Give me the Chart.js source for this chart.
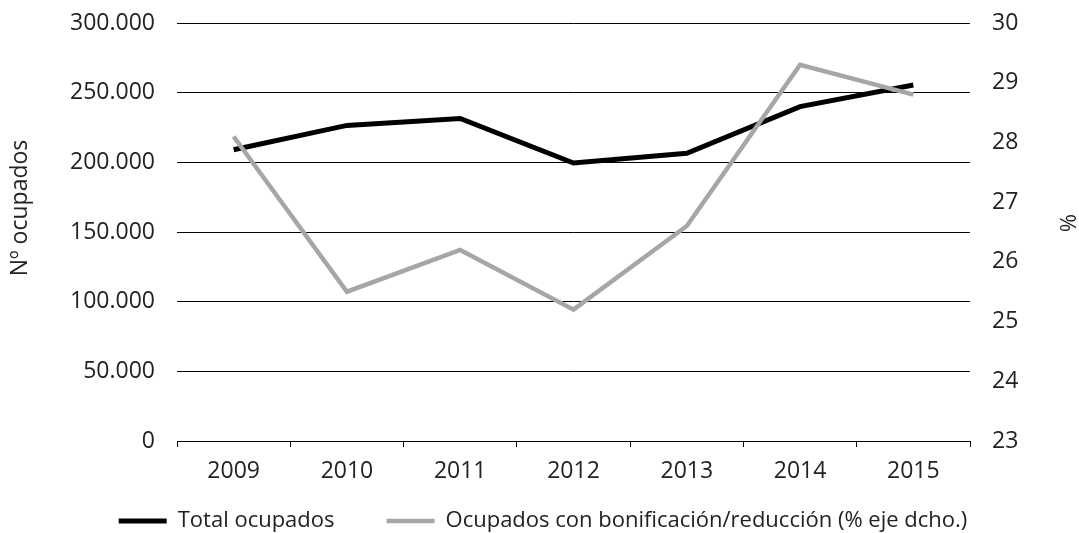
<!DOCTYPE html>
<html>
<head>
<meta charset="utf-8">
<script src="https://cdn.jsdelivr.net/npm/chart.js@4/dist/chart.umd.min.js"></script>
<style>
  html, body { margin: 0; padding: 0; background: #fff; }
  #wrap { width: 1079px; height: 533px; position: relative; }
</style>
</head>
<body>
<div id="wrap"><canvas id="c" width="1079" height="533"></canvas></div>
<script>
const categories = ['2009', '2010', '2011', '2012', '2013', '2014', '2015'];
const totalOcupados = [209000, 226500, 231500, 199500, 206500, 240000, 255500];
const pctBonificacion = [28.1, 25.5, 26.2, 25.2, 26.6, 29.3, 28.8];
const seriesNames = ['Total ocupados', 'Ocupados con bonificación/reducción (% eje dcho.)'];
const leftAxisTitle = 'Nº ocupados';
const rightAxisTitle = '%';

const FONT = "'Open Sans', 'Noto Sans', sans-serif";
const TXT = '#222222';
const LEGEND_TOP = 458;

function fmtThousands(v) {
  return String(Math.round(v)).replace(/\B(?=(\d{3})+(?!\d))/g, '.');
}

// Moves the legend into place and nudges the axis-title centres (data mapping is already configured).
const layoutTweaks = {
  id: 'layoutTweaks',
  afterLayout(chart) {
    const lg = chart.legend;
    if (lg) {
      lg.top = LEGEND_TOP;
      lg.bottom = chart.height;
      lg.height = lg.bottom - lg.top;
    }
    const yl = chart.scales.y;
    if (yl) { yl.bottom -= 48; }
    const yr = chart.scales.y1;
    if (yr) { yr.bottom -= 18; }
  }
};

function noPad(s) { s.paddingTop = 0; s.paddingBottom = 0; }

new Chart(document.getElementById('c'), {
  type: 'line',
  plugins: [layoutTweaks],
  data: {
    labels: categories,
    datasets: [
      {
        label: seriesNames[0],
        data: totalOcupados,
        yAxisID: 'y',
        borderColor: '#000000',
        backgroundColor: '#000000',
        borderWidth: 5,
        pointRadius: 0,
        tension: 0,
        order: 1
      },
      {
        label: seriesNames[1],
        data: pctBonificacion,
        yAxisID: 'y1',
        borderColor: '#A6A6A6',
        backgroundColor: '#A6A6A6',
        borderWidth: 4.5,
        pointRadius: 0,
        tension: 0,
        order: 0
      }
    ]
  },
  options: {
    responsive: false,
    animation: false,
    devicePixelRatio: 1,
    layout: { padding: { left: 7, right: 0, top: 23, bottom: 0 } },
    plugins: {
      tooltip: { enabled: false },
      legend: {
        position: 'bottom',
        maxHeight: 40,
        labels: {
          usePointStyle: true,
          pointStyle: 'line',
          pointStyleWidth: 48,
          boxHeight: 5,
          padding: 52,
          color: TXT,
          font: { family: FONT, size: 22 },
          sort: (a, b) => a.datasetIndex - b.datasetIndex
        }
      }
    },
    scales: {
      x: {
        offset: true,
        grid: {
          display: true,
          offset: true,
          drawOnChartArea: false,
          drawTicks: true,
          tickLength: 6,
          color: '#000000',
          lineWidth: 1
        },
        border: { display: true, color: '#000000', width: 1 },
        ticks: { color: TXT, font: { family: FONT, size: 23 }, padding: 11, maxRotation: 0 },
        afterFit: (s) => { s.height = 52; s.paddingLeft = 0; s.paddingRight = 0; }
      },
      y: {
        position: 'left',
        min: 0,
        max: 300000,
        ticks: {
          stepSize: 50000,
          color: TXT,
          padding: 22,
          font: { family: FONT, size: 23 },
          callback: (v) => fmtThousands(v)
        },
        grid: { color: '#000000', lineWidth: 1, drawTicks: false },
        border: { display: false },
        title: { display: true, text: leftAxisTitle, color: TXT, font: { family: FONT, size: 23 }, padding: 0 },
        afterFit: (s) => { s.width = 170; noPad(s); }
      },
      y1: {
        position: 'right',
        min: 23,
        max: 30,
        ticks: {
          stepSize: 1,
          color: TXT,
          padding: 22,
          font: { family: FONT, size: 23 }
        },
        grid: { display: false, drawTicks: false },
        border: { display: false },
        title: { display: true, text: rightAxisTitle, color: TXT, font: { family: FONT, size: 22 }, padding: 0 },
        afterFit: (s) => { s.width = 109; noPad(s); }
      }
    }
  }
});
</script>
</body>
</html>
